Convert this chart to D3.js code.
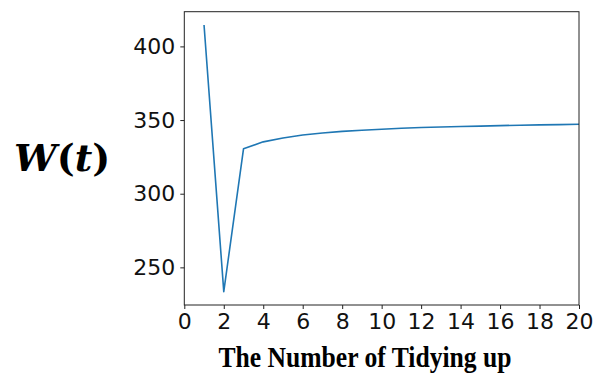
<!DOCTYPE html>
<html>
<head>
<meta charset="utf-8">
<script src="https://cdn.jsdelivr.net/npm/d3@7"></script>
<style>
  body { margin: 0; background: #fff; }
  svg { display: block; }
</style>
</head>
<body>
<svg width="593" height="376"></svg>
<script>
// data
const steps = d3.range(1, 21);
const wValues = [414.5, 233.5, 330.5, 335.2, 337.8, 339.8, 341.2, 342.3, 343.1, 343.8,
                 344.4, 344.9, 345.3, 345.6, 345.9, 346.2, 346.5, 346.7, 346.9, 347.1];
const xTicks = d3.range(0, 21, 2);
const yTicks = [250, 300, 350, 400];

const width = 593;
const height = 376;
const margin = { top: 11.7, right: 14, bottom: 71, left: 184.3 };

const data = steps.map((s, i) => ({ step: s, w: wValues[i] }));

// matplotlib style 5% padding on y
const yExt = d3.extent(wValues);
const pad = (yExt[1] - yExt[0]) * 0.05;

const xScale = d3.scaleLinear()
  .domain([0, 20])
  .range([margin.left, width - margin.right]);

const yScale = d3.scaleLinear()
  .domain([yExt[0] - pad, yExt[1] + pad])
  .range([height - margin.bottom, margin.top]);

const svg = d3.select("svg");

const line = d3.line()
  .x(d => xScale(d.step))
  .y(d => yScale(d.w));

svg.append("path")
  .attr("d", line(data))
  .attr("fill", "none")
  .attr("stroke", "#1f77b4")
  .attr("stroke-width", 1.6)
  .attr("stroke-linejoin", "round");

// frame
svg.append("rect")
  .attr("x", margin.left)
  .attr("y", margin.top)
  .attr("width", xScale.range()[1] - margin.left)
  .attr("height", yScale.range()[0] - margin.top)
  .attr("fill", "none")
  .attr("stroke", "#222")
  .attr("stroke-width", 1);

const xAxis = d3.axisBottom(xScale).tickValues(xTicks).tickSize(4).tickPadding(4);
const yAxis = d3.axisLeft(yScale).tickValues(yTicks).tickSize(4).tickPadding(5);

const gx = svg.append("g")
  .attr("transform", `translate(0, ${yScale.range()[0]})`)
  .call(xAxis);
const gy = svg.append("g")
  .attr("transform", `translate(${margin.left}, 0)`)
  .call(yAxis);

[gx, gy].forEach(g => {
  g.select(".domain").remove();
  g.selectAll(".tick line").attr("stroke", "#222");
  g.selectAll(".tick text")
    .attr("fill", "#111")
    .style("font-family", "'DejaVu Sans', sans-serif")
    .style("font-size", "22px");
});

// x axis title
svg.append("text")
  .attr("x", 365)
  .attr("y", 367)
  .attr("text-anchor", "middle")
  .attr("textLength", 293)
  .attr("lengthAdjust", "spacingAndGlyphs")
  .style("font-family", "'Liberation Serif', 'Times New Roman', serif")
  .style("font-weight", "bold")
  .style("font-size", "30px")
  .text("The Number of Tidying up");

// y axis title W(t)
const yt = svg.append("text")
  .attr("x", 14)
  .attr("y", 171)
  .style("font-family", "'DejaVu Serif', 'Liberation Serif', serif")
  .style("font-weight", "bold")
  .style("font-size", "38px");
yt.append("tspan").style("font-style", "italic").text("W");
yt.append("tspan").text("(");
yt.append("tspan").style("font-style", "italic").text("t");
yt.append("tspan").text(")");
</script>
</body>
</html>
